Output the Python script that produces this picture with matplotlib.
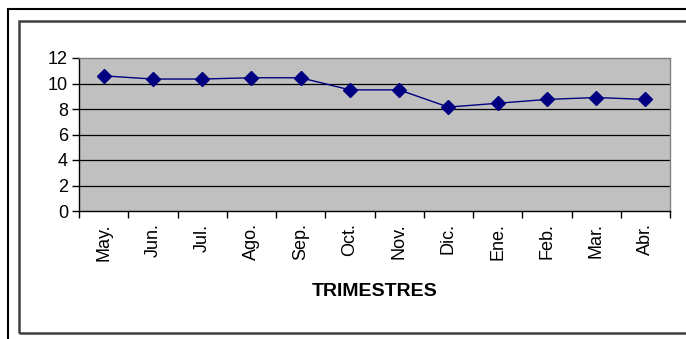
import matplotlib
matplotlib.use('Agg')
import matplotlib.pyplot as plt
import numpy as np
from matplotlib.patches import Rectangle

plt.rcParams['font.family'] = ['Liberation Sans', 'DejaVu Sans']

meses = ['May.', 'Jun.', 'Jul.', 'Ago.', 'Sep.', 'Oct.', 'Nov.', 'Dic.', 'Ene.', 'Feb.', 'Mar.', 'Abr.']
valores = [10.6, 10.35, 10.35, 10.45, 10.45, 9.5, 9.5, 8.15, 8.45, 8.75, 8.9, 8.75]
yticks = [0, 2, 4, 6, 8, 10, 12]

W, H = 686, 339
fig = plt.figure(figsize=(W / 100, H / 100), dpi=100)
fig.patch.set_facecolor('white')

# marcos exteriores (estilo Excel)
fig.add_artist(Rectangle((8 / W, -0.1), 1.2, 1 - 9 / H + 0.1, transform=fig.transFigure,
                         fill=False, edgecolor='black', linewidth=1.5))
fig.add_artist(Rectangle((19 / W, 1 - 333 / H), 1.2, (333 - 21) / H, transform=fig.transFigure,
                         fill=False, edgecolor='#404040', linewidth=1.8))

left, right, top, bottom = 79, 670, 58, 211
ax = fig.add_axes([left / W, 1 - bottom / H, (right - left) / W, (bottom - top) / H])
ax.set_facecolor('#C0C0C0')

x = np.arange(len(meses))
ax.plot(x, valores, color='#000080', linewidth=1, marker='D', markersize=7.5,
        markerfacecolor='#000080', markeredgecolor='#000080', zorder=3)

ax.set_xlim(-0.5, len(meses) - 0.5)
ax.set_ylim(0, 12)
ax.set_yticks(yticks)
ax.set_yticklabels([str(v) for v in yticks], fontsize=13)
for v in yticks[1:-1]:
    ax.axhline(v, color='black', linewidth=0.9, zorder=1)

ax.set_xticks(x)
ax.set_xticklabels(meses, rotation=90, fontsize=13)
ax.set_xticks(np.arange(-0.5, len(meses)), minor=True)
ax.tick_params(axis='x', which='major', length=0, pad=9)
ax.tick_params(axis='x', which='minor', length=5, width=1, direction='out', color='black')
ax.tick_params(axis='y', length=5, width=1, direction='out', pad=3)

ax.spines['top'].set_color('#808080')
ax.spines['right'].set_color('#808080')
ax.spines['left'].set_color('black')
ax.spines['bottom'].set_color('black')
for s in ax.spines.values():
    s.set_linewidth(1)

ax.set_xlabel('TRIMESTRES', fontsize=14, fontweight='bold', labelpad=16)

fig.savefig('out.png', dpi=100)
